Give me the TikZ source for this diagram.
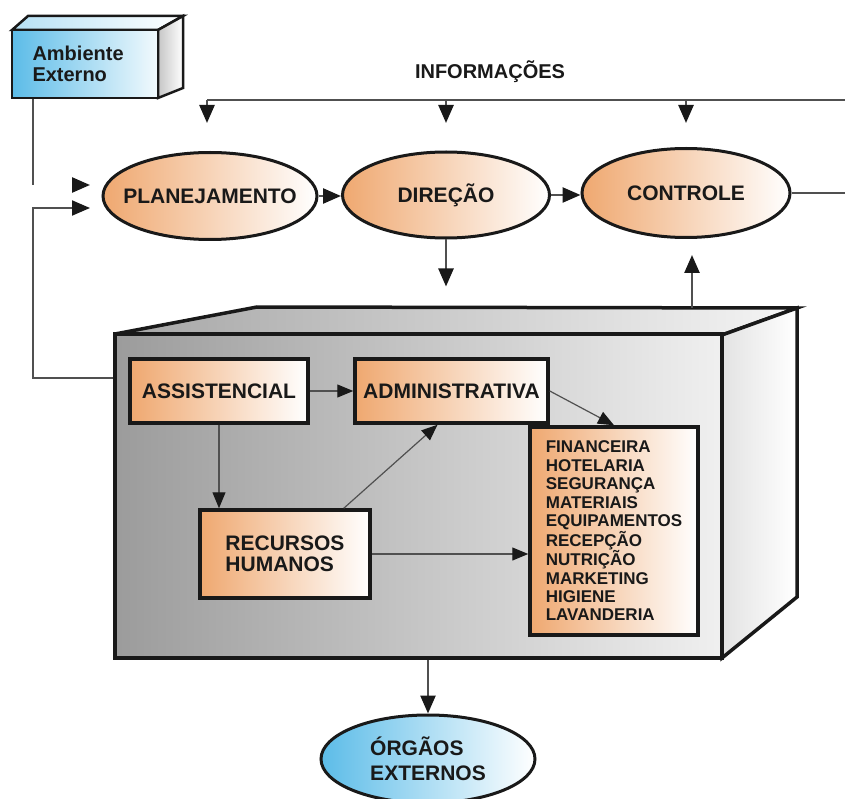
\documentclass[tikz,border=0pt]{standalone}
\usepackage{fontspec}
\setmainfont{Liberation Sans}
\usetikzlibrary{shapes.geometric,arrows.meta}
\definecolor{peach}{RGB}{239,168,112}
\definecolor{sky}{RGB}{92,188,232}
\definecolor{ink}{RGB}{25,25,25}
\definecolor{wirec}{RGB}{80,80,80}
\begin{document}
\begin{tikzpicture}[x=1pt,y=-1pt,
  lbl/.style={font=\bfseries\fontsize{21}{22}\selectfont, text=ink},
  small/.style={font=\bfseries\fontsize{17}{18.4}\selectfont, text=ink},
  oval/.style={ellipse, draw=ink, line width=3pt, left color=peach, right color=white, inner sep=0pt, lbl},
  unitbox/.style={rectangle, draw=ink, line width=3.5pt, left color=peach, right color=white, inner sep=0pt, lbl},
  wire/.style={draw=wirec, line width=2.5pt},
  arr/.style={wire, -{Triangle[length=18pt,width=15pt,color=ink]}},
  thinarr/.style={draw=wirec, line width=1.2pt, -{Triangle[length=16pt,width=13pt,color=ink]}},
]
\useasboundingbox (0,0) rectangle (845,799);

% --- external environment block (3D) ---
\path[draw=ink, line width=2.5pt, left color=sky!45, right color=white]
  (12,30) -- (28,16) -- (183,16) -- (158,30) -- cycle;
\path[draw=ink, line width=2.5pt, left color=gray!45, right color=white]
  (158,30) -- (183,16) -- (183,88) -- (158,98) -- cycle;
\node[rectangle, draw=ink, line width=2.5pt, left color=sky, right color=sky!8,
      minimum width=146pt, minimum height=68pt, inner sep=0pt,
      text width=105pt, align=left, lbl, font=\bfseries\fontsize{20}{21}\selectfont]
  (amb) at (85,64) {Ambiente\\Externo};

% --- information bus ---
\node[lbl, font=\bfseries\fontsize{20}{22}\selectfont] (info) at (490,72) {INFORMAÇÕES};
\coordinate (infoL) at (207,100);
\coordinate (infoR) at (845,100);

% --- management cycle ---
\node[oval, minimum width=214pt, minimum height=87pt] (plan) at (210,196) {\makebox[0pt]{PLANEJAMENTO}};
\node[oval, minimum width=207pt, minimum height=86pt] (dir)  at (446,195) {DIREÇÃO};
\node[oval, minimum width=208pt, minimum height=89pt] (ctrl) at (686,193) {CONTROLE};

\draw[wire] (infoL) -- (infoR);
\draw[arr] (infoL) -- ++(0,23);
\draw[arr] (infoL -| dir) -- ++(0,23);
\draw[arr] (infoL -| ctrl) -- ++(0,23);

\draw[arr] (plan.east) -- (plan.east -| dir.west);
\draw[arr] (dir.east) -- (dir.east -| ctrl.west);
\draw[wire] (ctrl.east) -- (ctrl.east -| infoR);
\draw[arr] (dir.south) -- ++(0,47);

% --- organisation block (3D) ---
\path[draw=ink, line width=3.5pt, left color=gray!70, right color=gray!8]
  (115,334) -- (257,307) -- (797,308) -- (722,335) -- cycle;
\path[draw=ink, line width=3.5pt, left color=gray!22, right color=white]
  (722,335) -- (797,308) -- (797,597) -- (722,658) -- cycle;
\node[rectangle, draw=ink, line width=3.5pt, left color=gray!78, right color=gray!12,
      minimum width=607pt, minimum height=324pt, inner sep=0pt]
  (org) at (418.5,496) {};

% --- internal areas ---
\node[unitbox, minimum width=178pt, minimum height=64pt] (assist) at (219,391) {ASSISTENCIAL};
\node[unitbox, minimum width=193pt, minimum height=64pt] (admin) at (451.5,391) {ADMINISTRATIVA};
\node[unitbox, minimum width=170pt, minimum height=88pt, align=left,
      font=\bfseries\fontsize{21}{21}\selectfont] (rh) at (285,554) {RECURSOS\\HUMANOS};
\node[unitbox, minimum width=168pt, minimum height=208pt, align=left, small]
  (list) at (614,531)
  {FINANCEIRA\\HOTELARIA\\SEGURANÇA\\MATERIAIS\\EQUIPAMENTOS\\RECEPÇÃO\\NUTRIÇÃO\\MARKETING\\HIGIENE\\LAVANDERIA};

\draw[thinarr] (assist.east) -- (admin.west);
\draw[thinarr] (assist.south) -- (assist.south |- rh.north);
\draw[thinarr] ([xshift=-28pt]rh.north east) -- ([xshift=-14pt]admin.south);
\draw[thinarr] (rh.east) -- (rh.east -| list.west);
\draw[thinarr] (admin.east) -- (list.north);

% --- external bodies ---
\node[ellipse, draw=ink, line width=3pt, left color=sky, right color=white, inner sep=0pt,
      minimum width=214pt, minimum height=88pt, align=left,
      font=\bfseries\fontsize{21}{25}\selectfont, text=ink]
  (orgext) at (428,759) {ÓRGÃOS\\EXTERNOS};
\draw[arr] (orgext.north |- org.south) -- (orgext.north);

% --- feedback to control ---
\coordinate (up) at (692,308);
\coordinate (upT) at (692,255);
\draw[arr] (up) -- (upT);

% --- environment inputs to planning ---
\coordinate (e1) at (33,185);
\coordinate (e1h) at (72,185);
\coordinate (e1t) at (90,185);
\draw[wire] (amb.south -| e1) -- (e1);
\draw[arr] (e1h) -- (e1t);
\coordinate (fbA) at (33,378);
\coordinate (fbB) at (33,208);
\coordinate (fbT) at (90,208);
\draw[wire, line width=2pt, -{Triangle[length=18pt,width=15pt,color=ink]}]
  (org.west |- fbA) -- (fbA) -- (fbB) -- (fbT);
\end{tikzpicture}
\end{document}
